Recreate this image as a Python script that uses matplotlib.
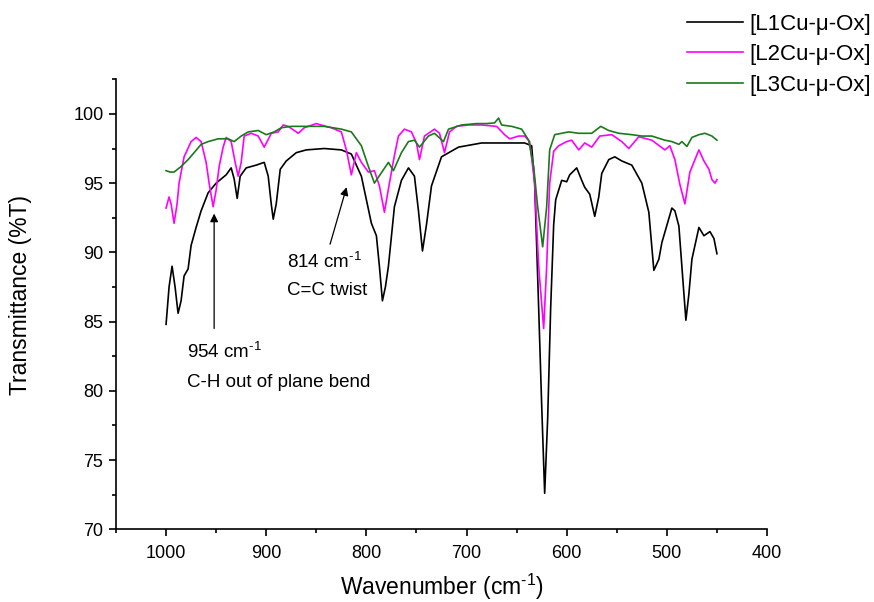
import matplotlib
matplotlib.use("Agg")
import matplotlib.pyplot as plt
from matplotlib.ticker import MultipleLocator

plt.rcParams['font.family'] = ['Liberation Sans', 'DejaVu Sans']
plt.rcParams['mathtext.fontset'] = 'custom'
plt.rcParams['mathtext.rm'] = 'Liberation Sans'
plt.rcParams['mathtext.it'] = 'Liberation Sans:italic'

# IR spectra, 1000-450 cm-1 (wavenumber, %T)
wn_l1 = [1000, 997, 994, 991, 988, 985, 982, 978, 975, 970, 965, 958, 950, 940, 935,
         932, 929, 926, 920, 910, 902, 898, 895, 893, 890, 886, 880, 870, 860, 842,
         825, 815, 805, 795, 790, 787, 784, 781, 778, 772, 765, 758, 752, 748, 744,
         740, 735, 725, 708, 685, 660, 642, 635, 632, 628, 625, 622, 619, 616, 613,
         611, 605, 600, 597, 590, 585, 582, 577, 572, 568, 565, 558, 552, 545, 535,
         525, 518, 513, 508, 505, 495, 492, 488, 484, 481, 478, 475, 468, 463, 457,
         453, 450]
t_l1 = [84.8, 87.5, 89.0, 87.5, 85.6, 86.5, 88.3, 88.8, 90.5, 91.8, 93.0, 94.3, 95.0, 95.6, 96.1,
        95.3, 93.9, 95.5, 96.1, 96.3, 96.5, 95.5, 93.5, 92.4, 93.5, 96.0, 96.6, 97.2, 97.4, 97.5,
        97.4, 97.1, 95.5, 92.1, 91.2, 89.0, 86.5, 87.5, 89.0, 93.3, 95.2, 96.1, 95.5, 93.0, 90.1,
        92.0, 94.8, 96.9, 97.6, 97.9, 97.9, 97.9, 97.7, 95.0, 86.0, 79.0, 72.6, 78.0, 86.0, 92.0,
        93.8, 95.2, 95.1, 95.6, 96.1, 95.2, 94.7, 94.2, 92.6, 94.0, 95.7, 96.7, 96.9, 96.6, 96.3,
        95.0, 92.9, 88.7, 89.5, 90.7, 93.2, 93.0, 91.9, 88.0, 85.1, 87.0, 89.5, 91.8, 91.2, 91.5,
        91.0, 89.9]

wn_l2 = [1000, 997, 995, 992, 989, 987, 982, 975, 970, 965, 960, 957, 953, 950, 947,
         943, 940, 935, 931, 928, 925, 922, 915, 908, 902, 897, 895, 888, 883, 878,
         872, 868, 862, 850, 843, 835, 825, 820, 815, 810, 805, 798, 792, 787, 782,
         777, 772, 768, 762, 755, 750, 747, 742, 732, 727, 722, 717, 710, 698, 685,
         670, 662, 657, 648, 642, 637, 632, 628, 623, 620, 617, 613, 608, 600, 595,
         588, 582, 575, 567, 555, 545, 538, 528, 515, 502, 497, 492, 487, 482, 477,
         468, 463, 458, 455, 452, 450]
t_l2 = [93.2, 94.0, 93.5, 92.1, 93.5, 95.0, 96.9, 98.0, 98.3, 98.0, 96.5, 95.0, 93.3, 94.5, 96.2,
        97.6, 98.3, 98.0, 96.5, 95.5, 96.5, 98.4, 98.6, 98.4, 97.6, 98.3, 98.6, 98.7, 99.2, 99.1,
        98.8, 98.6, 99.0, 99.3, 99.15, 99.0, 98.7, 97.4, 95.6, 97.2, 96.5, 95.8, 95.9, 94.8, 92.9,
        95.0, 97.0, 98.4, 98.9, 98.7, 97.9, 96.7, 98.4, 98.9, 98.6, 97.2, 98.7, 99.1, 99.2, 99.2,
        99.1, 98.5, 98.2, 98.4, 98.4, 98.0, 95.0, 89.0, 84.5, 89.0, 95.0, 97.3, 97.7, 98.0, 98.1,
        97.4, 97.9, 97.6, 98.4, 98.5, 98.0, 97.5, 98.35, 98.1, 97.4, 97.7, 96.7, 94.9, 93.5, 95.8,
        97.4, 96.6, 96.0, 95.25, 95.0, 95.25]

wn_l3 = [1000, 996, 992, 985, 978, 972, 965, 958, 948, 938, 932, 925, 918, 908, 900,
         892, 885, 875, 858, 842, 825, 815, 805, 798, 792, 785, 778, 773, 765, 758,
         752, 747, 738, 732, 723, 718, 705, 690, 680, 672, 668, 665, 655, 645, 638,
         633, 629, 624, 620, 617, 612, 598, 588, 575, 566, 558, 548, 535, 525, 515,
         502, 495, 488, 485, 480, 475, 468, 462, 455, 450]
t_l3 = [95.9, 95.8, 95.8, 96.2, 96.7, 97.2, 97.8, 98.0, 98.2, 98.2, 98.0, 98.4, 98.7, 98.8, 98.5,
        98.7, 99.0, 99.1, 99.1, 99.1, 98.9, 98.7, 97.7, 96.2, 95.0, 95.75, 96.5, 95.9, 97.2, 98.0,
        98.1, 97.6, 98.4, 98.6, 98.0, 98.9, 99.2, 99.3, 99.3, 99.35, 99.7, 99.2, 99.1, 98.9, 98.1,
        96.2, 93.3, 90.4, 93.3, 97.4, 98.5, 98.7, 98.6, 98.6, 99.1, 98.8, 98.6, 98.5, 98.4, 98.4,
        98.1, 98.0, 97.8, 98.0, 97.65, 98.3, 98.5, 98.6, 98.4, 98.1]

series_labels = ['[L1Cu-\u03bc-Ox]', '[L2Cu-\u03bc-Ox]', '[L3Cu-\u03bc-Ox]']
series_colors = ['black', '#ff00ff', '#1a7a1a']

fig = plt.figure(figsize=(8.74, 6.02), dpi=100)
ax = fig.add_axes([0.1327, 0.1208, 0.7449, 0.7475])

for wn, t, lab, col in zip([wn_l1, wn_l2, wn_l3], [t_l1, t_l2, t_l3],
                           series_labels, series_colors):
    ax.plot(wn, t, color=col, lw=1.2, label=lab)

ax.set_xlim(1050, 400)
ax.set_ylim(70, 102.5)
ax.xaxis.set_major_locator(MultipleLocator(100))
ax.xaxis.set_minor_locator(MultipleLocator(50))
ax.yaxis.set_major_locator(MultipleLocator(5))
ax.yaxis.set_minor_locator(MultipleLocator(2.5))

for side in ('top', 'right'):
    ax.spines[side].set_visible(False)
for side in ('left', 'bottom'):
    ax.spines[side].set_linewidth(1.2)

ax.tick_params(which='major', direction='out', length=5, width=1.2, labelsize=13)
ax.tick_params(which='minor', direction='out', length=3, width=1.2)
ax.tick_params(axis='x', which='major', pad=6)
ax.tick_params(axis='y', which='major', pad=4)

ax.set_xlabel('Wavenumber (cm$^{\\text{-}1}$)', fontsize=16.5)
ax.set_ylabel('Transmittance (%T)', fontsize=16.5)
ax.xaxis.set_label_coords(0.5, -0.095)
ax.yaxis.set_label_coords(-0.129, 0.52)

# band assignments
ax.annotate('', xy=(952, 93.0), xytext=(952, 84.3),
            arrowprops=dict(arrowstyle='-|>', color='black', lw=0.9, mutation_scale=12))
ax.text(979, 82.38, '954 cm$^{\\text{-}1}$', fontsize=13.5, va='baseline', ha='left')
ax.text(979, 80.28, 'C-H out of plane bend', fontsize=13.5, va='baseline', ha='left')

ax.annotate('', xy=(819, 94.9), xytext=(837, 90.4),
            arrowprops=dict(arrowstyle='-|>', color='black', lw=0.9, mutation_scale=12))
ax.text(879, 88.89, '814 cm$^{\\text{-}1}$', fontsize=13.5, va='baseline', ha='left')
ax.text(879, 86.93, 'C=C twist', fontsize=13.5, va='baseline', ha='left')

handles, labels = ax.get_legend_handles_labels()
fig.legend(handles, labels, loc='upper left', bbox_to_anchor=(687 / 874, 0.977),
           frameon=False, fontsize=16, handlelength=2.5, handletextpad=0.3,
           labelspacing=0.42, borderpad=0, borderaxespad=0)

fig.savefig('out.png', dpi=100)
